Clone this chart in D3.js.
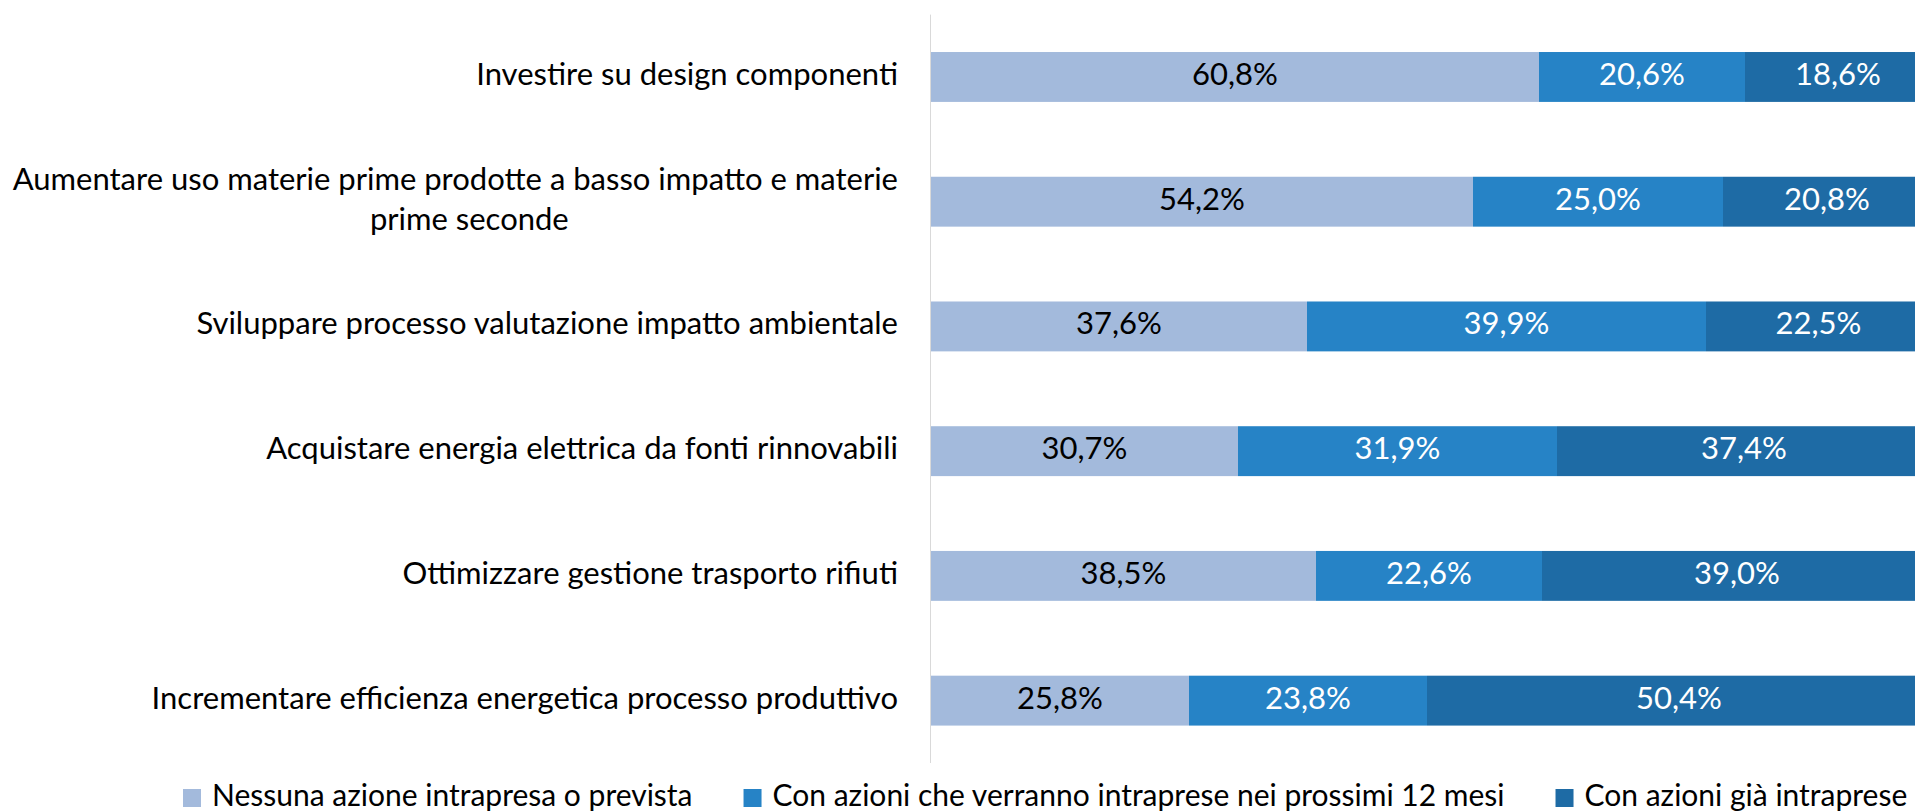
<!DOCTYPE html>
<html>
<head>
<meta charset="utf-8">
<script src="https://cdn.jsdelivr.net/npm/d3@7"></script>
<style>
    html, body { margin: 0; padding: 0; background: #fff; }
    #container { width: 1915px; height: 812px; overflow: hidden; }
    text { font-family: Lato, "Noto Sans", sans-serif; }
</style>
</head>
<body>
<div id="container"></div>
<script>
// categories, top to bottom (second one wraps in two lines)
var categories = [
    ["Investire su design componenti"],
    ["Aumentare uso materie prime prodotte a basso impatto e materie", "prime seconde"],
    ["Sviluppare processo valutazione impatto ambientale"],
    ["Acquistare energia elettrica da fonti rinnovabili"],
    ["Ottimizzare gestione trasporto rifiuti"],
    ["Incrementare efficienza energetica processo produttivo"]
];
var seriesNames = [
    "Nessuna azione intrapresa o prevista",
    "Con azioni che verranno intraprese nei prossimi 12 mesi",
    "Con azioni già intraprese"
];
var nessuna = [60.8, 54.2, 37.6, 30.7, 38.5, 25.8];
var prossimi = [20.6, 25.0, 39.9, 31.9, 22.6, 23.8];
var gia = [18.6, 20.8, 22.5, 37.4, 39.0, 50.4];

var colors = ["#a3badc", "#2683c6", "#1e6ba5"];
var labelColors = ["#000", "#fff", "#fff"];

var width = 1915, height = 812, fontSize = 31, legendFont = 30;

var svg = d3.select("#container").append("svg")
    .attr("width", width)
    .attr("height", height);

var keys = categories.map(function(d, i) { return i; });

var x = d3.scaleLinear().domain([0, 100]).range([931, 1931]);
var y = d3.scaleBand().domain(keys).range([14.6, 763])
    .paddingInner(0.6).paddingOuter(0.3);

var rows = keys.map(function(i) {
    return { k: i, a: nessuna[i], b: prossimi[i], c: gia[i] };
});
var stack = d3.stack().keys(["a", "b", "c"])(rows);

var fmt = function(v) { return d3.format(".1f")(v).replace(".", ",") + "%"; };

// bars
var layer = svg.append("g").selectAll("g")
    .data(stack)
    .enter().append("g")
    .attr("fill", function(d, i) { return colors[i]; });

layer.selectAll("rect")
    .data(function(d) { return d; })
    .enter().append("rect")
    .attr("x", function(d) { return x(d[0]); })
    .attr("y", function(d) { return y(d.data.k); })
    .attr("width", function(d) { return x(d[1]) - x(d[0]); })
    .attr("height", y.bandwidth());

// data labels
stack.forEach(function(s, si) {
    svg.append("g").selectAll("text")
        .data(s)
        .enter().append("text")
        .attr("x", function(d) { return (x(d[0]) + x(d[1])) / 2; })
        .attr("y", function(d) { return y(d.data.k) + y.bandwidth() / 2 + 8; })
        .attr("text-anchor", "middle")
        .attr("font-size", fontSize)
        .attr("fill", labelColors[si])
        .text(function(d) { return fmt(d[1] - d[0]); });
});

// vertical axis line
svg.append("line")
    .attr("x1", x(0) - 0.5).attr("x2", x(0) - 0.5)
    .attr("y1", y.range()[0]).attr("y2", y.range()[1])
    .attr("stroke", "#d9d9d9")
    .attr("stroke-width", 1);

// category labels
var labelX = x(0) - 33;
categories.forEach(function(lines, i) {
    var cy = y(i) + y.bandwidth() / 2;
    if (lines.length === 1) {
        svg.append("text")
            .attr("x", labelX)
            .attr("y", cy + 8)
            .attr("text-anchor", "end")
            .attr("font-size", fontSize)
            .attr("fill", "#000")
            .text(lines[0]);
    } else {
        var first = svg.append("text")
            .attr("x", labelX)
            .attr("y", cy - 20 + 8)
            .attr("text-anchor", "end")
            .attr("font-size", fontSize)
            .attr("fill", "#000")
            .text(lines[0]);
        var w = first.node().getComputedTextLength();
        svg.append("text")
            .attr("x", labelX - w / 2 + 14)
            .attr("y", cy + 20 + 8)
            .attr("text-anchor", "middle")
            .attr("font-size", fontSize)
            .attr("fill", "#000")
            .text(lines[1]);
    }
});

// legend
var lx = 183;
seriesNames.forEach(function(name, i) {
    svg.append("rect")
        .attr("x", lx).attr("y", 789)
        .attr("width", 18).attr("height", 18)
        .attr("fill", colors[i]);
    var t = svg.append("text")
        .attr("x", lx + 29)
        .attr("y", 806)
        .attr("font-size", legendFont)
        .attr("fill", "#000")
        .text(name);
    lx += 29 + t.node().getComputedTextLength() + 51;
});
</script>
</body>
</html>
